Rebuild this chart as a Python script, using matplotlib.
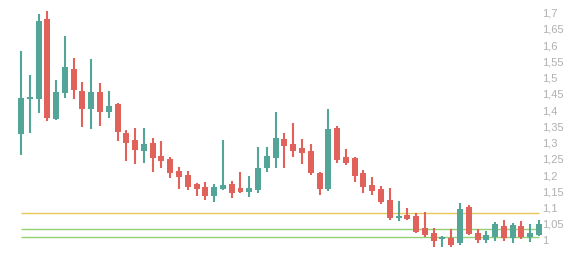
import matplotlib
matplotlib.use("Agg")
import matplotlib.pyplot as plt


# daily candles
opens = [1.326, 1.434, 1.434, 1.680, 1.372, 1.453, 1.527, 1.459, 1.403, 1.456,
         1.394, 1.419, 1.329, 1.308, 1.274, 1.299, 1.259, 1.249, 1.212, 1.200,
         1.172, 1.163, 1.136, 1.157, 1.172, 1.160, 1.148, 1.154, 1.222, 1.253,
         1.311, 1.296, 1.283, 1.274, 1.206, 1.157, 1.345, 1.256, 1.253, 1.206,
         1.169, 1.157, 1.123, 1.069, 1.077, 1.074, 1.037, 1.022, 1.003, 1.006,
         0.991, 1.102, 1.022, 1.000, 1.009, 1.043, 1.006, 1.043, 1.009, 1.015]
highs = [1.582, 1.508, 1.696, 1.705, 1.493, 1.628, 1.560, 1.487, 1.557, 1.483,
         1.459, 1.422, 1.339, 1.345, 1.345, 1.314, 1.305, 1.256, 1.225, 1.212,
         1.176, 1.179, 1.172, 1.308, 1.182, 1.209, 1.197, 1.286, 1.286, 1.394,
         1.329, 1.360, 1.311, 1.296, 1.209, 1.403, 1.351, 1.280, 1.256, 1.216,
         1.194, 1.166, 1.160, 1.120, 1.099, 1.083, 1.086, 1.037, 1.012, 1.034,
         1.114, 1.108, 1.034, 1.028, 1.055, 1.062, 1.052, 1.058, 1.049, 1.062]
lows = [1.262, 1.329, 1.391, 1.366, 1.369, 1.437, 1.434, 1.348, 1.342, 1.351,
        1.376, 1.305, 1.243, 1.234, 1.237, 1.209, 1.222, 1.191, 1.157, 1.154,
        1.136, 1.123, 1.117, 1.154, 1.129, 1.145, 1.132, 1.145, 1.209, 1.222,
        1.222, 1.256, 1.234, 1.200, 1.139, 1.151, 1.237, 1.231, 1.179, 1.145,
        1.139, 1.111, 1.062, 1.059, 1.062, 1.022, 1.009, 0.978, 0.978, 0.978,
        0.985, 1.015, 0.991, 0.991, 0.997, 0.997, 0.991, 1.003, 0.994, 1.012]
closes = [1.437, 1.439, 1.674, 1.376, 1.456, 1.533, 1.462, 1.403, 1.456, 1.394,
          1.413, 1.333, 1.299, 1.277, 1.296, 1.253, 1.243, 1.206, 1.194, 1.163,
          1.157, 1.136, 1.163, 1.169, 1.145, 1.148, 1.160, 1.222, 1.259, 1.314,
          1.289, 1.274, 1.268, 1.206, 1.157, 1.342, 1.246, 1.237, 1.197, 1.163,
          1.151, 1.117, 1.068, 1.075, 1.065, 1.025, 1.015, 0.997, 1.009, 0.985,
          1.095, 1.019, 1.000, 1.015, 1.049, 1.006, 1.046, 1.009, 1.022, 1.049]

levels = [1.084, 1.033, 1.008]
level_colors = ["#e6c957", "#92d070", "#92d070"]

yticks = [1.0, 1.05, 1.1, 1.15, 1.2, 1.25, 1.3, 1.35, 1.4, 1.45, 1.5, 1.55,
          1.6, 1.65, 1.7]
ytick_labels = ["1", "1,05", "1,1", "1,15", "1,2", "1,25", "1,3", "1,35",
                "1,4", "1,45", "1,5", "1,55", "1,6", "1,65", "1,7"]

UP = "#52a597"
DOWN = "#e0625a"

fig = plt.figure(figsize=(5.84, 2.58), dpi=100)
ax = fig.add_axes([0, 0, 541 / 584, 1])

n = len(opens)
xs = list(range(n))

for lvl, col in zip(levels, level_colors):
    ax.hlines(lvl, 0, n - 1, color=col, linewidth=1.0, zorder=1)

for i in xs:
    o, h, l, c = opens[i], highs[i], lows[i], closes[i]
    col = UP if c >= o else DOWN
    ax.vlines(i, l, h, color=col, linewidth=1.5, zorder=2, clip_on=False)
    body = max(abs(c - o), 0.005)
    ax.bar(i, body, bottom=min(o, c), width=0.68, color=col,
           linewidth=0, zorder=3, clip_on=False)

ax.set_xlim(-21 / 8.78, (541 - 21) / 8.78)
ax.set_ylim(0.9446, 1.7389)

ax.yaxis.tick_right()
ax.set_yticks(yticks)
ax.set_yticklabels(ytick_labels, fontsize=8, color="#b0b0b0",
                   family="Liberation Sans")
ax.tick_params(axis="y", length=0, pad=1)
ax.set_xticks([])

for side in ax.spines.values():
    side.set_visible(False)

fig.savefig("out.png", dpi=100)
plt.close(fig)
